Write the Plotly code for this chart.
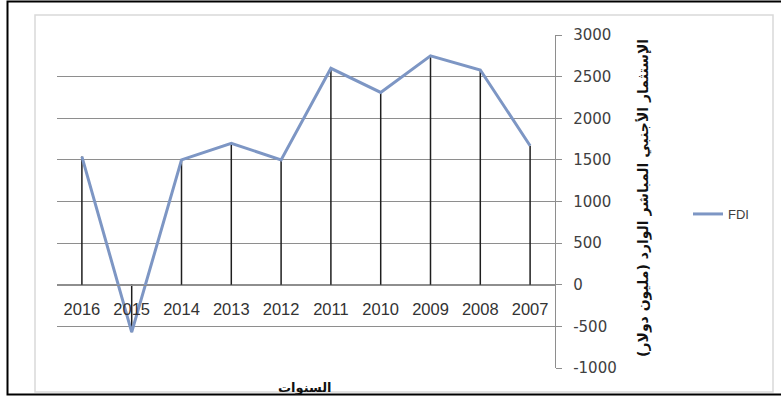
import plotly.graph_objects as go

years = ["2016", "2015", "2014", "2013", "2012", "2011", "2010", "2009", "2008", "2007"]
fdi = [1540, -570, 1500, 1700, 1500, 2600, 2310, 2750, 2580, 1670]
y_ticks = [-1000, -500, 0, 500, 1000, 1500, 2000, 2500, 3000]
series_name = "FDI"
y_title = "الإستثمار الأجنبي المباشر الوارد (مليون دولار)"
x_title = "السنوات"

W, H = 781, 396
L, R, T, B = 57, 555, 35, 368  # plot area in pixels


def px(xp):
    return (xp - L) / (R - L)


def py(yp):
    return (B - yp) / (B - T)


# drop lines from each point to the category axis
drop_x, drop_y = [], []
for yr, v in zip(years, fdi):
    drop_x += [yr, yr, None]
    drop_y += [0, v, None]

fig = go.Figure()
fig.add_trace(go.Scatter(x=drop_x, y=drop_y, mode="lines",
                         line=dict(color="#1e1e1e", width=1.5),
                         showlegend=False, hoverinfo="skip"))
fig.add_trace(go.Scatter(x=years, y=fdi, mode="lines", name=series_name,
                         line=dict(color="#7d96c4", width=3)))

grid = "#8e8e8e"
fig.update_layout(
    width=W, height=H,
    margin=dict(l=L, r=W - R, t=T, b=H - B),
    paper_bgcolor="white", plot_bgcolor="white",
    font=dict(family="Liberation Sans, Arial", color="#404040"),
    xaxis=dict(type="category", categoryorder="array", categoryarray=years,
               range=[-0.5, len(years) - 0.5],
               anchor="free", position=py(285), showgrid=False,
               showline=True, linecolor=grid, linewidth=1.3,
               ticks="", ticklabelstandoff=9,
               tickfont=dict(size=16.5, color="#333333", family="Liberation Sans, Arial"),
               zeroline=False),
    yaxis=dict(side="right", range=[-1000, 3000], tickvals=y_ticks,
               ticktext=[str(v) for v in y_ticks],
               showgrid=True, gridcolor=grid, gridwidth=1.3,
               showline=True, linecolor=grid, linewidth=1.3,
               ticks="outside", ticklen=6, tickcolor=grid, tickwidth=1.3,
               ticklabelstandoff=8, zeroline=False,
               tickfont=dict(size=15, color="#404040", family="DejaVu Sans")),
    legend=dict(x=px(688), y=py(214), xanchor="left", yanchor="middle",
                font=dict(size=13, color="#404040", family="Liberation Sans, Arial"),
                bgcolor="rgba(0,0,0,0)"),
    showlegend=True,
)

fig.add_annotation(x=px(643), y=py(198), xref="paper", yref="paper",
                   xanchor="center", yanchor="middle",
                   text="<b>" + y_title + "</b>", textangle=-90, showarrow=False,
                   font=dict(size=14, color="#111111", family="DejaVu Sans"))
fig.add_annotation(x=px(305), y=py(387), xref="paper", yref="paper",
                   xanchor="center", yanchor="middle",
                   text="<b>" + x_title + "</b>", showarrow=False,
                   font=dict(size=13, color="#111111", family="DejaVu Sans"))

# chart area border (light gray)
fig.add_shape(type="rect", xref="paper", yref="paper",
              x0=px(35), x1=px(773), y0=py(392), y1=py(15),
              line=dict(color="#d9d9d9", width=1.5), layer="below")
# outer black frame
fig.add_shape(type="rect", xref="paper", yref="paper",
              x0=px(7.5), x1=px(800), y0=py(394.5), y1=py(1.5),
              line=dict(color="black", width=2))

fig.write_html("out.html")
